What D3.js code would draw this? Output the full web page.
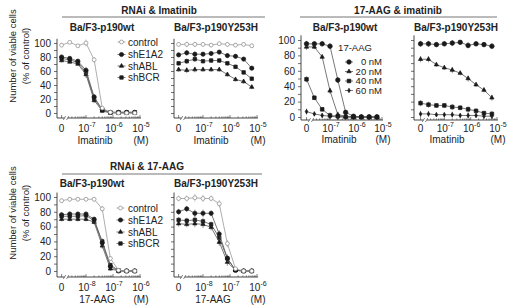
<!DOCTYPE html>
<html><head><meta charset="utf-8">
<script src="https://cdn.jsdelivr.net/npm/d3@7"></script>
<style>body{margin:0;background:#fff}svg text{font-family:"Liberation Sans",Arial,Helvetica,sans-serif;fill:#222}</style>
</head><body><svg id="c" width="520" height="306"></svg>
<script>
// ---------- DATA ----------
const imatinibConc = [0, 2.5e-8, 5e-8, 1e-7, 2e-7, 4e-7, 8e-7, 1.6e-6, 3.2e-6, 6.4e-6];
const aagConc      = [0, 2.5e-9, 5e-9, 1e-8, 2e-8, 4e-8, 8e-8, 1.6e-7, 3.2e-7, 6.4e-7];
const rnaiNames = ["control", "shE1A2", "shABL", "shBCR"];
const aagNames  = ["0 nM", "20 nM", "40 nM", "60 nM"];
const imatinibTicks = [1e-7, 1e-6, 1e-5];
const aagTicks = [1e-8, 1e-7, 1e-6];
const yTicks = [0, 10, 20, 30, 40, 50, 60, 70, 80, 90, 100];

// RNAi & Imatinib, Ba/F3-p190wt
const p1Control = [97, 101, 96, 100, 76, 7, 1, 0, 0, 0];
const p1ShE1A2  = [80, 78, 74, 61, 23, 5, 1, 1, 1, 1];
const p1ShABL   = [75, 73, 70, 55, 18, 3, 0, 0, 0, 0];
const p1ShBCR   = [78, 76, 72, 58, 21, 4, 1, 1, 1, 1];
const p1Err     = [3, 2, 2, 5, 4, 2, 1, 1, 1, 1];
// RNAi & Imatinib, Ba/F3-p190Y253H
const p2Control = [98, 98, 98, 98, 97, 99, 98, 97, 98, 96];
const p2ShE1A2  = [83, 86, 84, 84, 85, 87, 82, 81, 77, 64];
const p2ShABL   = [62, 61, 62, 62, 62, 62, 55, 48, 45, 37];
const p2ShBCR   = [71, 74, 77, 74, 75, 75, 71, 66, 58, 49];
const p2Err     = [3, 4, 4, 3, 3, 3, 3, 3, 3, 3];
// 17-AAG & imatinib, Ba/F3-p190wt
const p3Aag0  = [95, 95, 95, 92, 48, 6, 1, 0, 0, 0];
const p3Aag20 = [91, 91, 78, 34, 3, 1, 0, 0, 0, 0];
const p3Aag40 = [49, 25, 10, 2, 1, 0, 0, 0, 0, 0];
const p3Aag60 = [7, 4, 2, 1, 0, 0, 0, 0, 0, 0];
const p3Err   = [4, 3, 3, 4, 4, 2, 1, 1, 1, 1];
// 17-AAG & imatinib, Ba/F3-p190Y253H
const p4Aag0  = [95, 95, 94, 95, 96, 97, 93, 95, 94, 92];
const p4Aag20 = [75, 75, 68, 64, 61, 57, 50, 42, 35, 25];
const p4Aag40 = [18, 16, 15, 15, 13, 12, 10, 8, 5, 4];
const p4Aag60 = [4, 4, 3, 3, 3, 2, 2, 2, 1, 1];
const p4Err   = [4, 4, 3, 3, 4, 3, 4, 3, 3, 4];
// RNAi & 17-AAG, Ba/F3-p190wt
const p5Control = [95, 97, 97, 97, 97, 84, 17, 1, 0, 0];
const p5ShE1A2  = [76, 77, 77, 77, 70, 38, 6, 0, 0, 0];
const p5ShABL   = [70, 70, 70, 70, 66, 34, 3, 0, 0, 0];
const p5ShBCR   = [74, 74, 74, 75, 68, 40, 8, 1, 0, 0];
const p5Err     = [3, 3, 3, 3, 3, 4, 3, 1, 1, 1];
// RNAi & 17-AAG, Ba/F3-p190Y253H
const p6Control = [98, 98, 99, 98, 98, 91, 37, 3, 0, 0];
const p6ShE1A2  = [80, 84, 78, 78, 78, 50, 17, 1, 0, 0];
const p6ShABL   = [64, 63, 64, 63, 59, 39, 12, 1, 0, 0];
const p6ShBCR   = [69, 68, 69, 67, 63, 45, 17, 1, 0, 0];
const p6Err     = [4, 4, 5, 5, 4, 5, 5, 1, 1, 1];

// ---------- STYLES ----------
const styles = {
  "control": {sym: d3.symbolCircle,   size: 12, fill: "#fff", stroke: "#888", line: "#999"},
  "shE1A2":  {sym: d3.symbolCircle,   size: 14, fill: "#1a1a1a", stroke: "#1a1a1a", line: "#555"},
  "shABL":   {sym: d3.symbolTriangle, size: 8,  fill: "#1a1a1a", stroke: "#1a1a1a", line: "#555"},
  "shBCR":   {sym: d3.symbolSquare,   size: 12, fill: "#1a1a1a", stroke: "#1a1a1a", line: "#555"},
  "0 nM":    {sym: d3.symbolCircle,   size: 16, fill: "#1a1a1a", stroke: "#1a1a1a", line: "#555"},
  "20 nM":   {sym: d3.symbolTriangle, size: 8,  fill: "#1a1a1a", stroke: "#1a1a1a", line: "#555"},
  "40 nM":   {sym: d3.symbolSquare,   size: 13, fill: "#1a1a1a", stroke: "#1a1a1a", line: "#555"},
  "60 nM":   {sym: d3.symbolDiamond,  size: 6,  fill: "#1a1a1a", stroke: "#1a1a1a", line: "#555"}
};

const svg = d3.select("#c");

const panels = [
  {axisX: 57, y100: 43, y0: 113, xAxisY: 118, r: [59, 140], dom: [1e-8, 1e-5], zero: 1.25e-8, conc: imatinibConc,
   ticks: imatinibTicks, labelsY: true, title: "Ba/F3-p190wt", titleX: 102, titleY: 27, xlabel: "Imatinib", xlabelX: 95,
   tickY: 128, xlabY: 140, names: rnaiNames, vals: [p1Control, p1ShE1A2, p1ShABL, p1ShBCR], err: p1Err},
  {axisX: 174, y100: 43, y0: 113, xAxisY: 118, r: [176, 257], dom: [1e-8, 1e-5], zero: 1.25e-8, conc: imatinibConc,
   ticks: imatinibTicks, labelsY: false, title: "Ba/F3-p190Y253H", titleX: 216, titleY: 27, xlabel: "Imatinib", xlabelX: 211,
   tickY: 128, xlabY: 140, names: rnaiNames, vals: [p2Control, p2ShE1A2, p2ShABL, p2ShBCR], err: p2Err},
  {axisX: 301, y100: 40, y0: 117, xAxisY: 120, r: [304, 382], dom: [1e-8, 1e-5], zero: 1.25e-8, conc: imatinibConc,
   ticks: imatinibTicks, labelsY: true, title: "Ba/F3-p190wt", titleX: 345, titleY: 27, xlabel: "Imatinib", xlabelX: 339,
   tickY: 128, xlabY: 139, names: aagNames, vals: [p3Aag0, p3Aag20, p3Aag40, p3Aag60], err: p3Err},
  {axisX: 414, y100: 40, y0: 117, xAxisY: 120, r: [418, 497], dom: [1e-8, 1e-5], zero: 1.25e-8, conc: imatinibConc,
   ticks: imatinibTicks, labelsY: false, title: "Ba/F3-p190Y253H", titleX: 456, titleY: 27, xlabel: "Imatinib", xlabelX: 447,
   tickY: 128, xlabY: 139, names: aagNames, vals: [p4Aag0, p4Aag20, p4Aag40, p4Aag60], err: p4Err},
  {axisX: 57, y100: 197, y0: 271, xAxisY: 277, r: [59, 140], dom: [1e-9, 1e-6], zero: 1.25e-9, conc: aagConc,
   ticks: aagTicks, labelsY: true, title: "Ba/F3-p190wt", titleX: 92, titleY: 183, xlabel: "17-AAG", xlabelX: 97,
   tickY: 287, xlabY: 299, names: rnaiNames, vals: [p5Control, p5ShE1A2, p5ShABL, p5ShBCR], err: p5Err},
  {axisX: 174, y100: 197, y0: 271, xAxisY: 277, r: [176, 257], dom: [1e-9, 1e-6], zero: 1.25e-9, conc: aagConc,
   ticks: aagTicks, labelsY: false, title: "Ba/F3-p190Y253H", titleX: 216, titleY: 183, xlabel: "17-AAG", xlabelX: 213,
   tickY: 287, xlabY: 299, names: rnaiNames, vals: [p6Control, p6ShE1A2, p6ShABL, p6ShBCR], err: p6Err}
];

function drawPanel(p) {
  const g = svg.append("g");
  const y = d3.scaleLinear().domain([0, 100]).range([p.y0, p.y100]);
  const x = d3.scaleLog().domain(p.dom).range(p.r);
  const xp = c => c === 0 ? x(p.zero) : x(c);
  const zeroX = x(p.zero);

  const ya = g.append("g").attr("transform", `translate(${p.axisX},0)`)
    .call(d3.axisLeft(y).tickValues(yTicks).tickSize(3).tickPadding(3)
      .tickFormat(d => (p.labelsY && d % 20 === 0) ? d : ""));
  ya.select(".domain").remove();
  ya.selectAll("line").attr("stroke", "#333").attr("stroke-width", 0.7);
  ya.selectAll("text").attr("font-size", 10).attr("font-family", "Liberation Sans, Arial, sans-serif").attr("fill", "#222");
  g.append("line").attr("x1", p.axisX).attr("x2", p.axisX).attr("y1", y(106)).attr("y2", p.xAxisY)
    .attr("stroke", "#333").attr("stroke-width", 0.9);

  const xEnd = x(p.dom[1]) + 1;
  g.append("line").attr("x1", p.axisX).attr("x2", xEnd).attr("y1", p.xAxisY).attr("y2", p.xAxisY)
    .attr("stroke", "#333").attr("stroke-width", 0.9);
  const minor = [];
  for (let e = Math.log10(p.dom[0]); e < Math.log10(p.dom[1]); e++) {
    for (let k = 1; k < 10; k++) minor.push(k * Math.pow(10, e));
  }
  minor.push(p.dom[1]);
  g.selectAll(null).data(minor.filter(v => x(v) > zeroX + 8)).enter().append("line")
    .attr("x1", d => x(d)).attr("x2", d => x(d)).attr("y1", p.xAxisY)
    .attr("y2", d => p.xAxisY - (Math.abs(Math.log10(d) - Math.round(Math.log10(d))) < 1e-6 ? 3 : 1.6))
    .attr("stroke", "#333").attr("stroke-width", 0.6);
  g.append("line").attr("x1", zeroX).attr("x2", zeroX).attr("y1", p.xAxisY).attr("y2", p.xAxisY - 3)
    .attr("stroke", "#333").attr("stroke-width", 0.6);
  const bx = zeroX + 4.5;
  g.append("rect").attr("x", bx - 1.6).attr("y", p.xAxisY - 1).attr("width", 3.2).attr("height", 2).attr("fill", "#fff");
  [-1.6, 1.6].forEach(o => g.append("line").attr("x1", bx + o - 1.2).attr("x2", bx + o + 1.2)
    .attr("y1", p.xAxisY + 2).attr("y2", p.xAxisY - 2).attr("stroke", "#333").attr("stroke-width", 0.6));

  g.append("text").attr("x", zeroX).attr("y", p.tickY).attr("dy", "0.35em").attr("text-anchor", "middle")
    .attr("font-size", 10).text("0");
  p.ticks.forEach(t => {
    const tx = g.append("text").attr("x", x(t) + 1).attr("y", p.tickY).attr("dy", "0.35em")
      .attr("text-anchor", "middle").attr("font-size", 10);
    tx.append("tspan").text("10");
    tx.append("tspan").attr("font-size", 7).attr("dy", "-0.7em").text(String(Math.round(Math.log10(t))));
  });
  g.append("text").attr("x", x(p.ticks[p.ticks.length - 1]) + 1).attr("y", p.xlabY).attr("dy", "0.35em")
    .attr("text-anchor", "middle").attr("font-size", 10).text("(M)");
  g.append("text").attr("x", p.xlabelX).attr("y", p.xlabY).attr("dy", "0.35em")
    .attr("text-anchor", "middle").attr("font-size", 10).text(p.xlabel);

  g.append("text").attr("x", p.titleX).attr("y", p.titleY).attr("dy", "0.35em").attr("text-anchor", "middle")
    .attr("font-size", 10).attr("font-weight", "bold").text(p.title);

  const line = d3.line().x(d => xp(d[0])).y(d => y(d[1]));
  p.names.slice().reverse().forEach((name, ri) => {
    const i = p.names.length - 1 - ri;
    const st = styles[name];
    const pts = p.conc.map((c, j) => [c, p.vals[i][j], p.err[j]]);
    g.append("path").datum(pts).attr("d", line).attr("fill", "none")
      .attr("stroke", st.line).attr("stroke-width", 0.8);
    g.selectAll(null).data(pts.filter(d => d[2] > 1.5)).enter().append("line")
      .attr("x1", d => xp(d[0])).attr("x2", d => xp(d[0]))
      .attr("y1", d => y(d[1] - d[2])).attr("y2", d => y(d[1] + d[2]))
      .attr("stroke", st.line).attr("stroke-width", 0.6);
    g.selectAll(null).data(pts).enter().append("path")
      .attr("d", d3.symbol().type(st.sym).size(st.size))
      .attr("transform", d => `translate(${xp(d[0])},${y(d[1])})`)
      .attr("fill", st.fill).attr("stroke", st.stroke).attr("stroke-width", 0.7);
  });
}
panels.forEach(drawPanel);

function legendItem(mx, my, name, tx, anchor, fs) {
  const st = styles[name];
  svg.append("line").attr("x1", mx - 4).attr("x2", mx + 4).attr("y1", my).attr("y2", my)
    .attr("stroke", st.line).attr("stroke-width", 0.8);
  svg.append("path").attr("d", d3.symbol().type(st.sym).size(st.size))
    .attr("transform", `translate(${mx},${my})`).attr("fill", st.fill).attr("stroke", st.stroke).attr("stroke-width", 0.7);
  svg.append("text").attr("x", tx).attr("y", my).attr("dy", "0.35em").attr("text-anchor", anchor)
    .attr("font-size", fs).text(name);
}
const legTopY = [42, 54.5, 66, 77.5];
rnaiNames.forEach((n, i) => legendItem(121.5, legTopY[i], n, 128, "start", 10));
const legBotY = [208, 220, 232, 243.5];
rnaiNames.forEach((n, i) => legendItem(120.5, legBotY[i], n, 128, "start", 10));
svg.append("text").attr("x", 355).attr("y", 48).attr("dy", "0.35em").attr("text-anchor", "middle")
  .attr("font-size", 9.5).text("17-AAG");
const legAagY = [62, 71.5, 81, 90.5];
aagNames.forEach((n, i) => legendItem(349, legAagY[i], n, 382, "end", 9.5));

function header(cx, cy, x1, x2, ly, label) {
  svg.append("text").attr("x", cx).attr("y", cy).attr("dy", "0.35em").attr("text-anchor", "middle")
    .attr("font-size", 10).attr("font-weight", "bold").text(label);
  svg.append("line").attr("x1", x1).attr("x2", x2).attr("y1", ly).attr("y2", ly)
    .attr("stroke", "#666").attr("stroke-width", 0.9);
}
header(159, 10, 62, 265, 17, "RNAi & Imatinib");
header(398, 10, 300, 497, 17, "17-AAG & imatinib");
header(147, 166, 62, 262, 174, "RNAi & 17-AAG");

function yTitle(cy) {
  svg.append("text").attr("transform", `translate(13,${cy}) rotate(-90)`).attr("dy", "0.35em")
    .attr("text-anchor", "middle").attr("font-size", 9.5).text("Number of viable cells");
  svg.append("text").attr("transform", `translate(26,${cy}) rotate(-90)`).attr("dy", "0.35em")
    .attr("text-anchor", "middle").attr("font-size", 9.5).text("(% of control)");
}
yTitle(56);
yTitle(213);
</script></body></html>
